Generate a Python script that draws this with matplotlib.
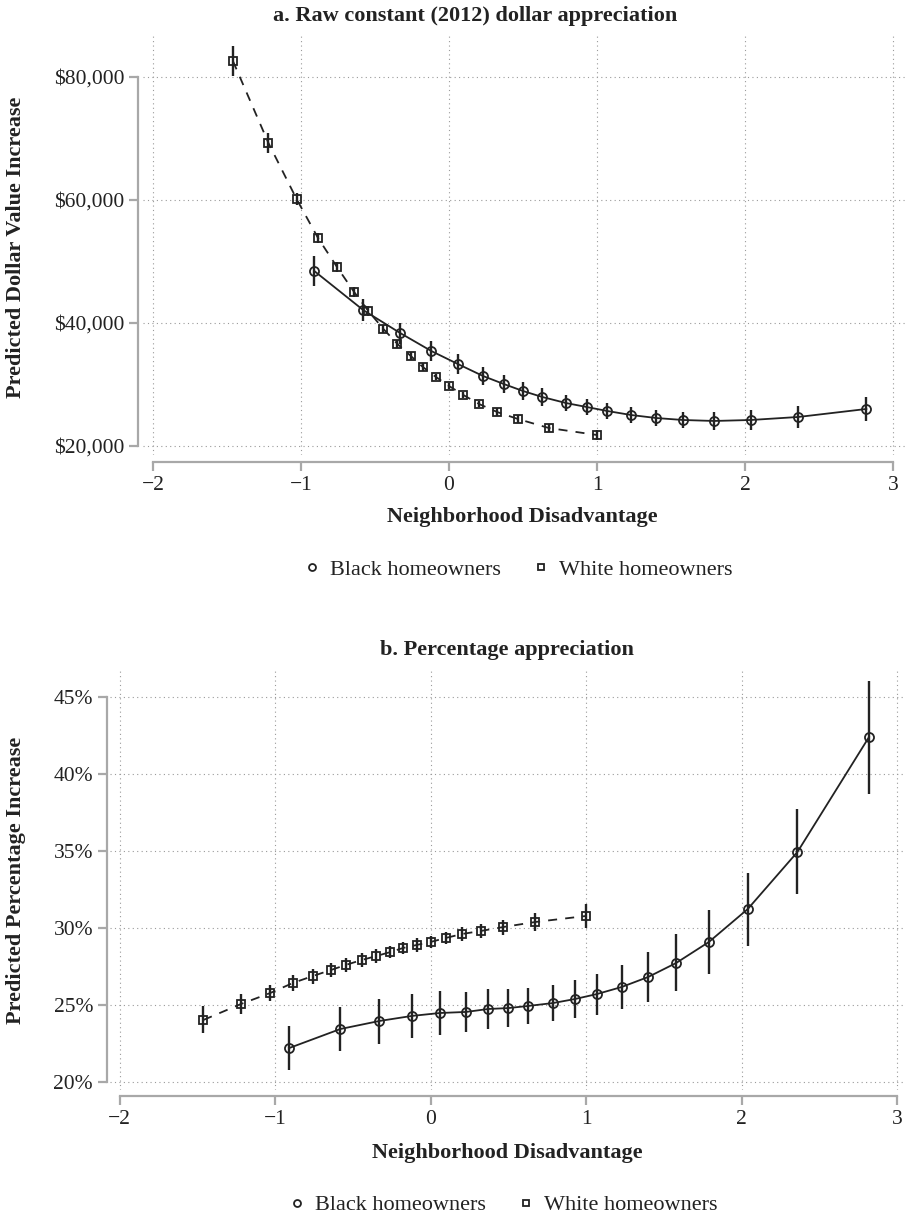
import matplotlib
matplotlib.use("Agg")
import matplotlib.pyplot as plt
from matplotlib.lines import Line2D

plt.rcParams['font.family'] = ['Liberation Serif', 'DejaVu Serif']

# ---------------- data ----------------
black_x = [-0.91, -0.58, -0.33, -0.12, 0.06, 0.23, 0.37, 0.50, 0.63, 0.79,
           0.93, 1.07, 1.23, 1.40, 1.58, 1.79, 2.04, 2.36, 2.82]
white_x = [-1.46, -1.22, -1.03, -0.885, -0.757, -0.641, -0.545, -0.443, -0.348,
           -0.258, -0.177, -0.088, 0.0, 0.097, 0.203, 0.325, 0.466, 0.674, 1.0]

# panel a: dollars
black_dollar = [48450, 42110, 38370, 35450, 33330, 31380, 30080, 28940, 27970, 26990,
                26340, 25690, 25040, 24550, 24230, 24070, 24230, 24720, 26020]
black_dollar_err = [2440, 1790, 1710, 1630, 1580, 1460, 1540, 1430, 1460, 1300,
                    1300, 1300, 1250, 1300, 1350, 1430, 1630, 1790, 1950]
white_dollar = [82600, 69270, 60160, 53820, 49110, 45040, 41950, 39020, 36590, 34630,
                32850, 31220, 29760, 28290, 26830, 25530, 24390, 22930, 21790]
white_dollar_err = [2410, 1570, 1000, 870, 850, 810, 850, 700, 650, 600,
                    580, 560, 560, 560, 560, 600, 620, 650, 870]

# panel b: percent
black_pct = [22.2, 23.44, 23.96, 24.29, 24.48, 24.55, 24.74, 24.8, 24.94, 25.13,
             25.39, 25.71, 26.17, 26.82, 27.73, 29.09, 31.23, 34.94, 42.40]
black_pct_err = [1.43, 1.43, 1.46, 1.43, 1.43, 1.3, 1.27, 1.23, 1.17, 1.17,
                 1.23, 1.33, 1.43, 1.65, 1.85, 2.08, 2.37, 2.76, 3.67]
white_pct = [24.03, 25.06, 25.78, 26.43, 26.88, 27.27, 27.60, 27.92, 28.18, 28.44,
             28.70, 28.90, 29.09, 29.35, 29.61, 29.81, 30.06, 30.39, 30.78]
white_pct_err = [0.88, 0.65, 0.51, 0.51, 0.49, 0.45, 0.47, 0.45, 0.45, 0.42,
                 0.40, 0.43, 0.40, 0.41, 0.43, 0.43, 0.49, 0.60, 0.77]

x_ticks = [-2, -1, 0, 1, 2, 3]
x_ticklabels = ['\u22122', '\u22121', '0', '1', '2', '3']
a_yticks = [20000, 40000, 60000, 80000]
a_yticklabels = ['$20,000', '$40,000', '$60,000', '$80,000']
b_yticks = [20, 25, 30, 35, 40, 45]
b_yticklabels = ['20%', '25%', '30%', '35%', '40%', '45%']

series_labels = ['Black homeowners', 'White homeowners']
titles = ['a. Raw constant (2012) dollar appreciation', 'b. Percentage appreciation']
xlabel = 'Neighborhood Disadvantage'
ylabels = ['Predicted Dollar Value Increase', 'Predicted Percentage Increase']

# ---------------- style ----------------
W, H = 907, 1218
DARK = '#222222'
SPINE = '#a8a8a8'
GRID = '#9a9a9a'
FS = 16

fig = plt.figure(figsize=(W / 100, H / 100), dpi=100)


def fx(px):
    return px / W


def fy(py):
    return 1 - py / H


def axes_px(l, t, r, b):
    return fig.add_axes([fx(l), fy(b), fx(r) - fx(l), fy(t) - fy(b)])


def draw_panel(ax, bx, by, be, wx, wy, we, yticks, yticklabels, xlim, ylim,
               left_out, bottom_out):
    ax.set_xlim(*xlim)
    ax.set_ylim(*ylim)
    for v in x_ticks:
        ax.axvline(v, color=GRID, lw=0.8, ls=(0, (1, 3)), zorder=0)
    for v in yticks:
        ax.axhline(v, color=GRID, lw=0.8, ls=(0, (1, 3)), zorder=0)
    # lines
    ax.plot(bx, by, color=DARK, lw=1.3, zorder=2)
    ax.plot(wx, wy, color=DARK, lw=1.3, ls=(0, (5, 4.5)), zorder=2)
    # error bars
    ax.errorbar(bx, by, yerr=be, fmt='none', ecolor=DARK, elinewidth=1.7,
                capsize=0, zorder=3)
    ax.errorbar(wx, wy, yerr=we, fmt='none', ecolor=DARK, elinewidth=1.7,
                capsize=0, zorder=3)
    # markers
    ax.plot(bx, by, ls='none', marker='o', ms=6.5, mfc='none', mec=DARK,
            mew=1.3, zorder=4)
    ax.plot(wx, wy, ls='none', marker='s', ms=6.0, mfc='none', mec=DARK,
            mew=1.3, zorder=4)
    # axes styling
    for s in ['top', 'right']:
        ax.spines[s].set_visible(False)
    ax.spines['left'].set_position(('outward', left_out))
    ax.spines['bottom'].set_position(('outward', bottom_out))
    ax.spines['left'].set_bounds(yticks[0], yticks[-1])
    ax.spines['bottom'].set_bounds(x_ticks[0], x_ticks[-1])
    for s in ['left', 'bottom']:
        ax.spines[s].set_color(SPINE)
        ax.spines[s].set_linewidth(1.6)
    ax.set_xticks(x_ticks)
    ax.set_xticklabels(x_ticklabels)
    ax.set_yticks(yticks)
    ax.set_yticklabels(yticklabels)
    ax.tick_params(axis='both', colors=SPINE, width=1.6, length=6.5,
                   labelsize=15.5, labelcolor=DARK, pad=3.5)
    ax.patch.set_visible(False)


# panel a
ax1 = axes_px(143, 35, 905, 455)
draw_panel(ax1, black_x, black_dollar, black_dollar_err,
           white_x, white_dollar, white_dollar_err,
           a_yticks, a_yticklabels,
           ((143 - 449) / 148, (905 - 449) / 148),
           (20000 - (455 - 446) * 162.6, 20000 + (446 - 35) * 162.6),
           3.6, 5.0)

# panel b
ax2 = axes_px(110, 668, 905, 1090)
draw_panel(ax2, black_x, black_pct, black_pct_err,
           white_x, white_pct, white_pct_err,
           b_yticks, b_yticklabels,
           ((110 - 430.5) / 155.5, (905 - 430.5) / 155.5),
           (20 - 8 / 15.4, 20 + (1082 - 668) / 15.4),
           2.2, 4.3)

# titles and labels
fig.text(fx(475), fy(16), titles[0], ha='center', va='center', fontsize=FS,
         fontweight='bold', color=DARK)
fig.text(fx(507), fy(650), titles[1], ha='center', va='center', fontsize=FS,
         fontweight='bold', color=DARK)
fig.text(fx(522), fy(517), xlabel, ha='center', va='center', fontsize=FS,
         fontweight='bold', color=DARK)
fig.text(fx(507), fy(1153), xlabel, ha='center', va='center', fontsize=FS,
         fontweight='bold', color=DARK)
fig.text(fx(16), fy(247), ylabels[0], ha='center', va='center', rotation=90,
         fontsize=FS, fontweight='bold', color=DARK)
fig.text(fx(16), fy(880), ylabels[1], ha='center', va='center', rotation=90,
         fontsize=FS, fontweight='bold', color=DARK)

handles = [Line2D([], [], ls='none', marker='o', ms=5, mfc='none', mec=DARK, mew=1.3),
           Line2D([], [], ls='none', marker='s', ms=4.5, mfc='none', mec=DARK, mew=1.3)]
for cx, cy in [(518, 570), (503, 1205)]:
    fig.legend(handles, series_labels, loc='center', bbox_to_anchor=(fx(cx), fy(cy)),
               ncol=2, frameon=False, fontsize=FS, handlelength=0.8,
               handletextpad=0.4, columnspacing=1.4, labelcolor=DARK)

fig.savefig('out.png', dpi=100, facecolor='white')
